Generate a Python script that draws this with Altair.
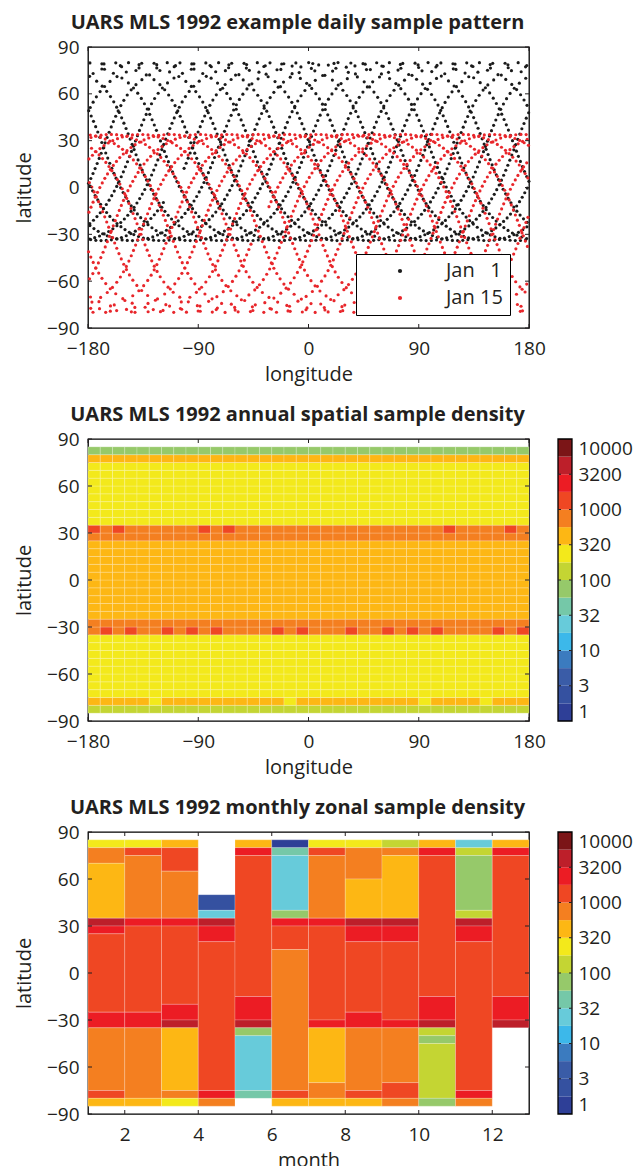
import json
import numpy as np
import pandas as pd
import altair as alt

FONT = "Open Sans"
INK = "#231f20"

# ---------------------------------------------------------------- panel 1 data
# MLS limb tangent-point track: latitude limits and one polar turning longitude
# for each day; samples every limb scan (65.536 s)
day_labels = ["Jan\u00a0\u00a0\u00a01", "Jan 15"]
day_colors = ["#1b1b1b", "#e8262b"]
day_lat_min = [-34, -80]
day_lat_max = [80, 34]
day_turn_lon = [2.0, -160.0]
orbit_minutes = 96.5
scan_seconds = 65.536

# ---------------------------------------------------------------- panel 2 data
annual_lon_edges = list(range(-180, 181, 10))
annual_band_lo = [80, 75, 35, 30, 25, -25, -30, -35, -75, -80, -85]
annual_band_hi = [85, 80, 75, 35, 30, 25, -25, -30, -35, -75, -80]
annual_band_count = [75, 420, 240, 750, 750, 420, 750, 750, 240, 420, 130]
annual_hot_30N_lon = [-180, -160, -90, -70, 110, 160]          # cells at 30-35N
annual_hot_30N_count = 1300
annual_hot_30S_lon = [-170, -150, -120, -100, -80, -30, -10, 30, 60, 80, 100, 150, 170]
annual_hot_30S_count = 1300                                     # cells at 35-30S
annual_low_75S_lon = [-130, -20, 90, 140]                       # cells at 80-75S
annual_low_75S_count = 240

# ---------------------------------------------------------------- panel 3 data
# month -> list of (lat_from, lat_to, samples)
monthly = {
    1: [(80, 85, 240), (70, 80, 750), (35, 70, 420), (30, 35, 4200), (25, 30, 2400),
        (-25, 25, 1300), (-35, -25, 2400), (-75, -35, 750), (-80, -75, 1300), (-85, -80, 420)],
    2: [(80, 85, 240), (75, 80, 1300), (35, 75, 750), (30, 35, 2400), (-25, 30, 1300),
        (-35, -25, 2400), (-80, -35, 750), (-85, -80, 420)],
    3: [(80, 85, 420), (65, 80, 1300), (35, 65, 750), (30, 35, 2400), (-20, 30, 1300),
        (-30, -20, 2400), (-35, -30, 4200), (-75, -35, 420), (-80, -75, 750), (-85, -80, 240)],
    4: [(40, 50, 2.4), (35, 40, 24), (30, 35, 4200), (20, 30, 2400), (-75, 20, 1300),
        (-80, -75, 2400), (-85, -80, 750)],
    5: [(80, 85, 420), (75, 80, 2400), (-15, 75, 1300), (-30, -15, 2400), (-35, -30, 4200),
        (-40, -35, 75), (-75, -40, 24), (-80, -75, 42)],
    6: [(80, 85, 1.3), (75, 80, 42), (40, 75, 24), (35, 40, 75), (30, 35, 2400),
        (15, 30, 1300), (-75, 15, 750), (-80, -75, 1300), (-85, -80, 420)],
    7: [(80, 85, 240), (75, 80, 1300), (35, 75, 750), (30, 35, 2400), (-30, 30, 1300),
        (-35, -30, 2400), (-70, -35, 420), (-80, -70, 750), (-85, -80, 420)],
    8: [(80, 85, 240), (60, 80, 750), (35, 60, 420), (30, 35, 4200), (20, 30, 2400),
        (-25, 20, 1300), (-35, -25, 2400), (-75, -35, 750), (-80, -75, 1300), (-85, -80, 420)],
    9: [(80, 85, 130), (75, 80, 750), (35, 75, 420), (30, 35, 4200), (20, 30, 2400),
        (-30, 20, 1300), (-35, -30, 2400), (-70, -35, 750), (-80, -70, 1300), (-85, -80, 750)],
    10: [(80, 85, 420), (75, 80, 2400), (-15, 75, 1300), (-30, -15, 2400), (-35, -30, 4200),
         (-40, -35, 130), (-45, -40, 75), (-80, -45, 130), (-85, -80, 75)],
    11: [(80, 85, 24), (75, 80, 130), (40, 75, 75), (35, 40, 130), (30, 35, 4200),
         (20, 30, 2400), (-75, 20, 1300), (-80, -75, 2400), (-85, -80, 750)],
    12: [(80, 85, 420), (75, 80, 2400), (-15, 75, 1300), (-30, -15, 2400), (-35, -30, 4200)],
}

# ---------------------------------------------------------------- colour scale
cbar_colors = ["#2e3f97", "#3551a0", "#3a5ca7", "#3b7bbf", "#3cb8ea", "#67cbda",
               "#75c8a8", "#96c96a", "#c4d533", "#f3e91b", "#fdb714", "#f47f20",
               "#ef4723", "#ec1c24", "#bd1f2a", "#7b1517"]
cbar_log_edges = [k * 0.25 for k in range(17)]
cbar_tick_pos = [0, 0.5, 1, 1.5, 2, 2.5, 3, 3.5, 4]
cbar_tick_labels = ["1", "3", "10", "32", "100", "320", "1000", "3200", "10000"]

lon_ticks = [-180, -90, 0, 90, 180]
lat_ticks = [-90, -60, -30, 0, 30, 60, 90]
month_ticks = [2, 4, 6, 8, 10, 12]

# ---------------------------------------------------------------- build tables
def tangent_track(lat_min, lat_max, turn_lon):
    inc = np.radians((lat_max - lat_min) / 2.0)
    off = np.radians((lat_max + lat_min) / 2.0)
    period = orbit_minutes * 60.0
    t = np.arange(0.0, 86400.0, scan_seconds)
    phi = 2 * np.pi * t / period
    rx, ry, rz = np.cos(phi), np.sin(phi) * np.cos(inc), np.sin(phi) * np.sin(inc)
    px = np.cos(off) * rx
    py = np.cos(off) * ry - np.sin(off) * np.sin(inc)
    pz = np.cos(off) * rz + np.sin(off) * np.cos(inc)
    lat = np.degrees(np.arcsin(np.clip(pz, -1, 1)))
    lon_in = np.degrees(np.arctan2(py, px))
    north = off > 0
    t_turn = (0.25 if north else 0.75) * period
    lon_turn_in = 90.0 if north else -90.0
    c = turn_lon - lon_turn_in + 360.0 * t_turn / 86164.0
    lon = lon_in - 360.0 * t / 86164.0 + c
    lon = (lon + 180.0) % 360.0 - 180.0
    return lon, lat

frames = []
for lab, lo, hi, tl in zip(day_labels, day_lat_min, day_lat_max, day_turn_lon):
    lon, lat = tangent_track(lo, hi, tl)
    frames.append(pd.DataFrame({"lon": lon, "lat": lat, "day": lab}))
df_daily = pd.concat(frames, ignore_index=True)

rows = []
for lat0 in range(-85, 85, 5):
    band = [c for a, b, c in zip(annual_band_lo, annual_band_hi, annual_band_count) if a <= lat0 < b][0]
    for lon0 in annual_lon_edges[:-1]:
        v = band
        if lat0 == 30 and lon0 in annual_hot_30N_lon:
            v = annual_hot_30N_count
        if lat0 == -35 and lon0 in annual_hot_30S_lon:
            v = annual_hot_30S_count
        if lat0 == -80 and lon0 in annual_low_75S_lon:
            v = annual_low_75S_count
        rows.append({"lon0": lon0, "lon1": lon0 + 10, "lat0": lat0, "lat1": lat0 + 5, "n": v})
df_annual = pd.DataFrame(rows)

rows = []
for m, segs in monthly.items():
    for a, b, v in segs:
        rows.append({"m0": m, "m1": m + 1, "lat0": a, "lat1": b, "n": v})
df_monthly = pd.DataFrame(rows)

df_cbar = pd.DataFrame({"lo": cbar_log_edges[:-1], "hi": cbar_log_edges[1:], "col": cbar_colors})
thresholds = [10 ** e for e in cbar_log_edges[1:-1]]

# ---------------------------------------------------------------- helpers
W, H1, H = 441, 281, 282
CBW, CB_GAP = 14, 29
TL = 4

lon_scale = alt.Scale(domain=[-180, 180], nice=False, zero=False)
lat_scale = alt.Scale(domain=[-90, 90], nice=False, zero=False)
month_scale = alt.Scale(domain=[1, 13], nice=False, zero=False)
cb_scale = alt.Scale(domain=[0, 4], nice=False, zero=False)
color_scale = alt.Scale(type="threshold", domain=thresholds, range=cbar_colors)


def x_axis(title, values):
    return alt.Axis(title=title, values=values, format="d", labelFlush=False, labelOverlap=False,
                    labelPadding=11, titlePadding=6, ticks=False, tickSize=0, domain=False, grid=False)


def y_axis():
    return alt.Axis(title="latitude", values=lat_ticks, format="d", labelOverlap=False,
                    labelPadding=9, titlePadding=12, ticks=False, tickSize=0, domain=False, grid=False)


def inward_ticks(xvals, xscale, xaxis, yvals, yscale, yaxis, w, h, tl=TL):
    xs = alt.Chart(pd.DataFrame({"v": xvals})).mark_rule(color=INK, strokeWidth=1)
    ys = alt.Chart(pd.DataFrame({"v": yvals})).mark_rule(color=INK, strokeWidth=1)
    X = alt.X("v:Q", scale=xscale, axis=xaxis)
    Y = alt.Y("v:Q", scale=yscale, axis=yaxis)
    return [xs.encode(x=X, y=alt.value(h - tl), y2=alt.value(h)),
            xs.encode(x=X, y=alt.value(0), y2=alt.value(tl)),
            ys.encode(y=Y, x=alt.value(0), x2=alt.value(tl)),
            ys.encode(y=Y, x=alt.value(w - tl), x2=alt.value(w))]


def title(text, dx):
    return alt.TitleParams(text=text, anchor="middle", frame="group", dx=dx, offset=-11,
                           baseline="alphabetic")


def colorbar_layer():
    x0, x1 = W + CB_GAP, W + CB_GAP + CBW
    lab_expr = "%s[round(datum.value*2)]" % json.dumps(cbar_tick_labels)
    cb_axis = alt.Axis(orient="right", offset=CB_GAP + CBW, title=None, values=cbar_tick_pos,
                       labelExpr=lab_expr, labelFlush=True, labelOverlap=False, labelPadding=6,
                       ticks=False, tickSize=0, domain=False, grid=False)
    Y = alt.Y("lo:Q", scale=cb_scale, axis=cb_axis)
    bar = alt.Chart(df_cbar).mark_rect().encode(
        x=alt.value(x0), x2=alt.value(x1), y=Y, y2="hi:Q",
        color=alt.Color("col:N", scale=None))
    box = alt.Chart(pd.DataFrame({"lo": [cbar_log_edges[0]], "hi": [cbar_log_edges[-1]]})).mark_rect(
        fillOpacity=0, stroke="black", strokeWidth=1.3).encode(
        x=alt.value(x0), x2=alt.value(x1), y=Y, y2="hi:Q")
    tk = alt.Chart(pd.DataFrame({"lo": cbar_tick_pos[1:-1]})).mark_rule(color=INK, strokeWidth=1)
    return alt.layer(bar, box,
                     tk.encode(y=Y, x=alt.value(x0), x2=alt.value(x0 + 3)),
                     tk.encode(y=Y, x=alt.value(x1 - 3), x2=alt.value(x1)))


# ---------------------------------------------------------------- panel 1
ax_lon = x_axis("longitude", lon_ticks)
ax_lat = y_axis()
pts = alt.Chart(df_daily).mark_circle(size=10, opacity=1).encode(
    x=alt.X("lon:Q", scale=lon_scale, axis=ax_lon),
    y=alt.Y("lat:Q", scale=lat_scale, axis=ax_lat),
    color=alt.Color("day:N", scale=alt.Scale(domain=day_labels, range=day_colors),
                    legend=alt.Legend(title=None, orient="none", legendX=268, legendY=207,
                                      direction="vertical", strokeColor="black",
                                      fillColor="white", padding=7, symbolType="circle",
                                      symbolSize=18, symbolOffset=27, labelOffset=36,
                                      labelFont=FONT, labelFontSize=20, labelColor=INK,
                                      rowPadding=7)),
)
p1 = alt.layer(pts, *inward_ticks(lon_ticks, lon_scale, ax_lon, lat_ticks, lat_scale, ax_lat, W, H1)).properties(
    width=W, height=H1, title=title("UARS MLS 1992 example daily sample pattern", -11))

# ---------------------------------------------------------------- panel 2
heat2 = alt.Chart(df_annual).mark_rect(stroke="white", strokeWidth=0.6, strokeOpacity=0.35).encode(
    x=alt.X("lon0:Q", scale=lon_scale, axis=ax_lon),
    x2="lon1:Q",
    y=alt.Y("lat0:Q", scale=lat_scale, axis=ax_lat),
    y2="lat1:Q",
    color=alt.Color("n:Q", scale=color_scale, legend=None),
)
p2 = alt.layer(
    alt.layer(heat2, *inward_ticks(lon_ticks, lon_scale, ax_lon, lat_ticks, lat_scale, ax_lat, W, H)),
    colorbar_layer(),
).resolve_scale(y="independent").properties(
    width=W, height=H, title=title("UARS MLS 1992 annual spatial sample density", -11))

# ---------------------------------------------------------------- panel 3
ax_month = x_axis("month", month_ticks)
heat3 = alt.Chart(df_monthly).mark_rect(stroke="white", strokeWidth=0.6, strokeOpacity=0.35).encode(
    x=alt.X("m0:Q", scale=month_scale, axis=ax_month),
    x2="m1:Q",
    y=alt.Y("lat0:Q", scale=lat_scale, axis=ax_lat),
    y2="lat1:Q",
    color=alt.Color("n:Q", scale=color_scale, legend=None),
)
p3 = alt.layer(
    alt.layer(heat3, *inward_ticks(month_ticks, month_scale, ax_month, lat_ticks, lat_scale, ax_lat, W, H)),
    colorbar_layer(),
).resolve_scale(y="independent").properties(
    width=W, height=H, title=title("UARS MLS 1992 monthly zonal sample density", -11))

chart = alt.vconcat(p1, p2, p3, spacing=19).properties(
    padding={"left": 13, "top": 12, "right": 2, "bottom": 0}
).configure_view(stroke="black", strokeWidth=1.3).configure_axis(
    labelFont=FONT, titleFont=FONT, labelFontSize=19, titleFontSize=20,
    labelColor=INK, titleColor=INK, titleFontWeight="normal"
).configure_title(font=FONT, fontSize=20, fontWeight="bold", color=INK)

chart.save("out.html", embed_options={"renderer": "svg", "actions": False})
